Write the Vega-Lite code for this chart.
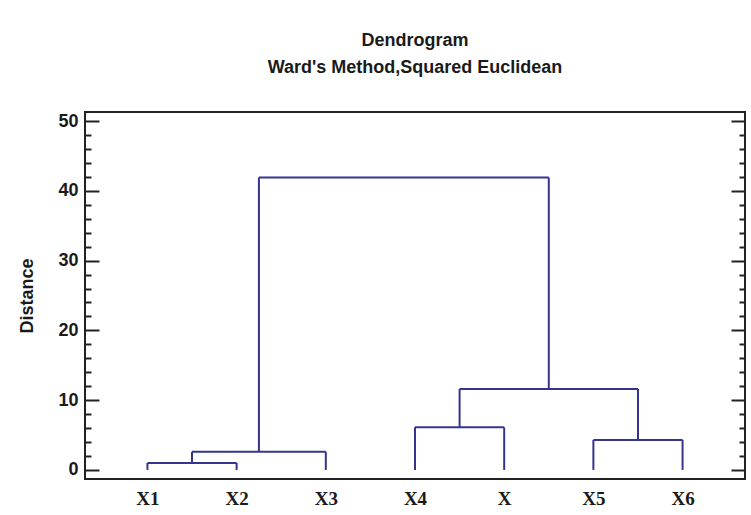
{
  "$schema": "https://vega.github.io/schema/vega-lite/v6.json",
  "autosize": {"type": "none"},
  "padding": {"left": 85, "top": 112, "right": 6, "bottom": 36},
  "width": 660,
  "height": 367,
  "background": "white",
  "title": {
    "text": "Dendrogram",
    "subtitle": "Ward's Method,Squared Euclidean",
    "anchor": "middle",
    "frame": "group",
    "font": "Liberation Sans",
    "fontSize": 18,
    "fontWeight": "bold",
    "color": "#1a1a1a",
    "subtitleFont": "Liberation Sans",
    "subtitleFontSize": 18,
    "subtitleFontWeight": "bold",
    "subtitleColor": "#1a1a1a",
    "subtitlePadding": 9,
    "offset": 35
  },
  "data": {
    "values": [
      {"x": 1, "x2": 1, "y": 0, "y2": 1.0},
      {"x": 2, "x2": 2, "y": 0, "y2": 1.0},
      {"x": 1, "x2": 2, "y": 1.0, "y2": 1.0},
      {"x": 1.5, "x2": 1.5, "y": 1.0, "y2": 2.6},
      {"x": 3, "x2": 3, "y": 0, "y2": 2.6},
      {"x": 1.5, "x2": 3, "y": 2.6, "y2": 2.6},
      {"x": 2.25, "x2": 2.25, "y": 2.6, "y2": 41.9},
      {"x": 4, "x2": 4, "y": 0, "y2": 6.1},
      {"x": 5, "x2": 5, "y": 0, "y2": 6.1},
      {"x": 4, "x2": 5, "y": 6.1, "y2": 6.1},
      {"x": 6, "x2": 6, "y": 0, "y2": 4.3},
      {"x": 7, "x2": 7, "y": 0, "y2": 4.3},
      {"x": 6, "x2": 7, "y": 4.3, "y2": 4.3},
      {"x": 4.5, "x2": 4.5, "y": 6.1, "y2": 11.6},
      {"x": 6.5, "x2": 6.5, "y": 4.3, "y2": 11.6},
      {"x": 4.5, "x2": 6.5, "y": 11.6, "y2": 11.6},
      {"x": 5.5, "x2": 5.5, "y": 11.6, "y2": 41.9},
      {"x": 2.25, "x2": 5.5, "y": 41.9, "y2": 41.9}
    ]
  },
  "config": {
    "view": {"stroke": "#222222", "strokeWidth": 2},
    "axis": {"grid": false, "domain": false, "tickColor": "#222222", "tickWidth": 2}
  },
  "resolve": {"axis": {"y": "independent"}},
  "layer": [
    {
      "mark": {"type": "rule", "color": "#35358f", "strokeWidth": 2},
      "encoding": {
        "x": {
          "field": "x", "type": "quantitative",
          "scale": {"domain": [0.3, 7.7], "nice": false, "zero": false},
          "axis": {
            "orient": "bottom",
            "values": [1, 2, 3, 4, 5, 6, 7],
            "labelExpr": "datum.value == 1 ? 'X1' : datum.value == 2 ? 'X2' : datum.value == 3 ? 'X3' : datum.value == 4 ? 'X4' : datum.value == 5 ? 'X' : datum.value == 6 ? 'X5' : 'X6'",
            "ticks": false,
            "labelPadding": 10,
            "labelFont": "Liberation Serif",
            "labelFontSize": 19,
            "labelFontWeight": "bold",
            "labelColor": "#1a1a1a",
            "labelOverlap": false,
            "title": null
          }
        },
        "x2": {"field": "x2"},
        "y": {
          "field": "y", "type": "quantitative",
          "scale": {"domain": [-1.3, 51.3], "nice": false, "zero": false},
          "axis": {
            "orient": "left",
            "values": [0, 10, 20, 30, 40, 50],
            "tickSize": -14,
            "labelPadding": 21,
            "labelFont": "Liberation Sans",
            "labelFontSize": 18,
            "labelFontWeight": "bold",
            "labelColor": "#1a1a1a",
            "title": "Distance",
            "titleFont": "Liberation Sans",
            "titleFontSize": 18,
            "titleFontWeight": "bold",
            "titleColor": "#1a1a1a",
            "titlePadding": 21
          }
        },
        "y2": {"field": "y2"}
      }
    },
    {
      "mark": {"type": "rule", "opacity": 0},
      "encoding": {
        "y": {
          "field": "y", "type": "quantitative",
          "axis": {
            "orient": "left",
            "values": [2, 4, 6, 8, 12, 14, 16, 18, 22, 24, 26, 28, 32, 34, 36, 38, 42, 44, 46, 48],
            "tickSize": -6,
            "labels": false,
            "title": null
          }
        }
      }
    },
    {
      "mark": {"type": "rule", "opacity": 0},
      "encoding": {
        "y": {
          "field": "y", "type": "quantitative",
          "axis": {
            "orient": "right",
            "values": [0, 10, 20, 30, 40, 50],
            "tickSize": -14,
            "labels": false,
            "title": null
          }
        }
      }
    },
    {
      "mark": {"type": "rule", "opacity": 0},
      "encoding": {
        "y": {
          "field": "y", "type": "quantitative",
          "axis": {
            "orient": "right",
            "values": [2, 4, 6, 8, 12, 14, 16, 18, 22, 24, 26, 28, 32, 34, 36, 38, 42, 44, 46, 48],
            "tickSize": -6,
            "labels": false,
            "title": null
          }
        }
      }
    }
  ]
}
